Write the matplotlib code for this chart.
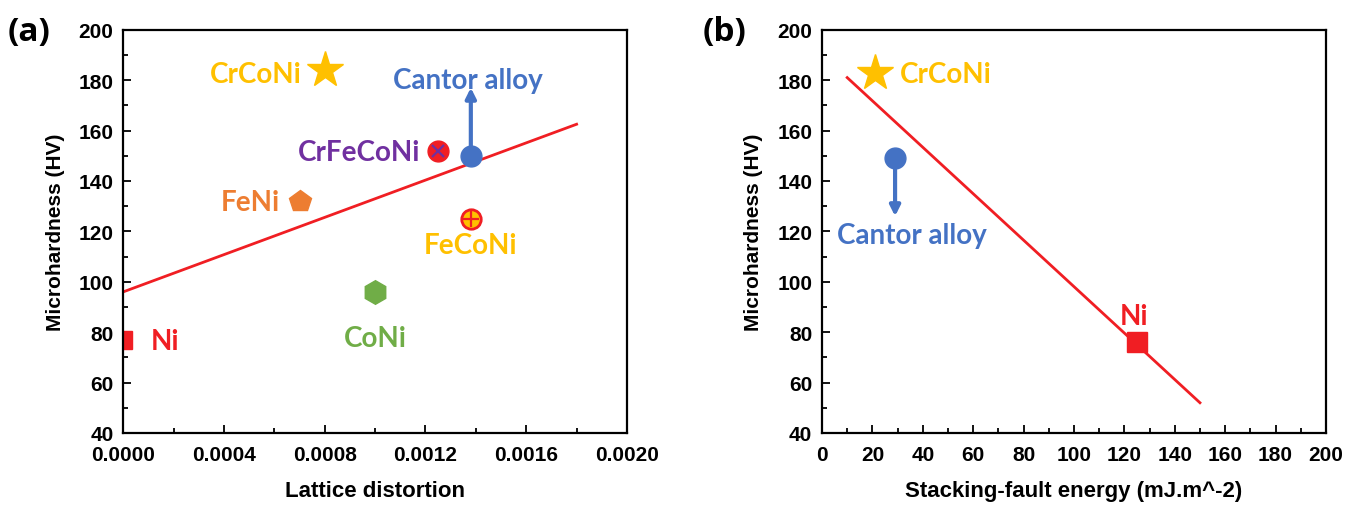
import matplotlib
matplotlib.use("Agg")
import matplotlib.pyplot as plt
from matplotlib.ticker import MultipleLocator, FormatStrFormatter

# ---- data: panel (a) hardness vs lattice distortion ----
alloys_a = ["Ni", "CoNi", "FeNi", "CrCoNi", "FeCoNi", "CrFeCoNi", "Cantor alloy"]
distortion = [0.0, 0.0010, 0.0007, 0.0008, 0.00138, 0.00125, 0.00138]
hardness_a = [77, 96, 132, 184, 125, 152, 150]
cantor_arrow_top_a = 177
fit_a_x = [0.0, 0.0018]
fit_a_y = [96, 162.5]

# ---- data: panel (b) hardness vs stacking-fault energy ----
alloys_b = ["CrCoNi", "Cantor alloy", "Ni"]
sfe = [21, 29, 125]
hardness_b = [183, 149, 76]
cantor_arrow_bottom_b = 126
fit_b_x = [10, 150]
fit_b_y = [181, 52]

RED = "#F01E23"
GOLD = "#FFC000"
BLUE = "#4472C4"
PURPLE = "#7030A0"
ORANGE = "#ED7D31"
GREEN = "#70AD47"

plt.rcParams["font.family"] = ["Liberation Sans", "DejaVu Sans"]
plt.rcParams["font.weight"] = "bold"

fig = plt.figure(figsize=(13.46, 5.06), dpi=100)
ax_a = fig.add_axes([0.0916, 0.1423, 0.3742, 0.797])
ax_b = fig.add_axes([0.6107, 0.1423, 0.3744, 0.797])

lab_font = dict(family=["Lato", "DejaVu Sans"], fontweight="bold", fontsize=20)


def style_axes(ax):
    for s in ax.spines.values():
        s.set_linewidth(1.6)
    ax.tick_params(which="both", direction="in", top=False, right=False,
                   labelsize=15, width=1.3)
    ax.tick_params(which="major", length=6)
    ax.tick_params(which="minor", length=3.5)
    ax.tick_params(axis="x", which="major", pad=9)
    ax.tick_params(axis="y", which="major", pad=7)
    for lbl in ax.get_xticklabels() + ax.get_yticklabels():
        lbl.set_fontweight("bold")
    ax.set_ylim(40, 200)
    ax.yaxis.set_major_locator(MultipleLocator(20))
    ax.yaxis.set_minor_locator(MultipleLocator(10))
    ax.set_ylabel("Microhardness (HV)", fontsize=15, fontweight="bold", labelpad=10)


# ---------------- panel (a) ----------------
ax = ax_a
ax.set_xlim(0, 0.0020)
ax.xaxis.set_major_locator(MultipleLocator(0.0004))
ax.xaxis.set_minor_locator(MultipleLocator(0.0002))
ax.xaxis.set_major_formatter(FormatStrFormatter("%.4f"))
ax.plot(fit_a_x, fit_a_y, color=RED, lw=2)

d = dict(zip(alloys_a, zip(distortion, hardness_a)))
ax.plot(*d["Ni"], marker="s", ms=13, color=RED, mec=RED)
ax.plot(*d["CoNi"], marker="h", ms=17, color=GREEN, mec=GREEN)
ax.plot(*d["FeNi"], marker="p", ms=16, color=ORANGE, mec=ORANGE)
ax.plot(*d["CrCoNi"], marker="*", ms=27, color=GOLD, mec=GOLD)
ax.plot(*d["FeCoNi"], marker="o", ms=14, color=GOLD, mec=RED, mew=2)
ax.plot(*d["FeCoNi"], marker="+", ms=11, color=RED, mew=1.6)
ax.plot(*d["CrFeCoNi"], marker="o", ms=15, color=RED, mec=RED)
ax.plot(*d["CrFeCoNi"], marker="x", ms=8, color=PURPLE, mew=1.6)
cx, cy = d["Cantor alloy"]
ax.annotate("", xy=(cx, cantor_arrow_top_a), xytext=(cx, cy),
            arrowprops=dict(arrowstyle="-|>,head_length=0.6,head_width=0.3",
                            color=BLUE, lw=3, shrinkA=0, shrinkB=0))
ax.plot(cx, cy, marker="o", ms=15, color=BLUE, mec=BLUE)

ax.text(0.00011, 76.5, "Ni", color=RED, ha="left", va="center", **lab_font)
ax.text(0.0010, 77.5, "CoNi", color=GREEN, ha="center", va="center", **lab_font)
ax.text(0.00062, 131.5, "FeNi", color=ORANGE, ha="right", va="center", **lab_font)
ax.text(0.00071, 182.5, "CrCoNi", color=GOLD, ha="right", va="center", **lab_font)
ax.text(0.00138, 114.5, "FeCoNi", color=GOLD, ha="center", va="center", **lab_font)
ax.text(0.00118, 151.5, "CrFeCoNi", color=PURPLE, ha="right", va="center", **lab_font)
ax.text(0.00137, 180, "Cantor alloy", color=BLUE, ha="center", va="center", **lab_font)

style_axes(ax)
ax.set_xlabel("Lattice distortion", fontsize=16, fontweight="bold", labelpad=11)

# ---------------- panel (b) ----------------
ax = ax_b
ax.set_xlim(0, 200)
ax.xaxis.set_major_locator(MultipleLocator(20))
ax.xaxis.set_minor_locator(MultipleLocator(10))
ax.plot(fit_b_x, fit_b_y, color=RED, lw=2)

e = dict(zip(alloys_b, zip(sfe, hardness_b)))
ax.plot(*e["CrCoNi"], marker="*", ms=27, color=GOLD, mec=GOLD)
ax.plot(*e["Ni"], marker="s", ms=14, color=RED, mec=RED)
bx, by = e["Cantor alloy"]
ax.annotate("", xy=(bx, cantor_arrow_bottom_b), xytext=(bx, by),
            arrowprops=dict(arrowstyle="-|>,head_length=0.6,head_width=0.3",
                            color=BLUE, lw=3, shrinkA=0, shrinkB=0))
ax.plot(bx, by, marker="o", ms=15, color=BLUE, mec=BLUE)

ax.text(31, 182.5, "CrCoNi", color=GOLD, ha="left", va="center", **lab_font)
ax.text(35.5, 118.5, "Cantor alloy", color=BLUE, ha="center", va="center", **lab_font)
ax.text(124, 86.5, "Ni", color=RED, ha="center", va="center", **lab_font)

style_axes(ax)
ax.set_xlabel("Stacking-fault energy (mJ.m^-2)", fontsize=16, fontweight="bold",
              labelpad=11)

# panel tags
fig.text(0.006, 0.935, "(a)", fontsize=24, fontweight="bold", va="center", ha="left",
         family=["Open Sans", "DejaVu Sans"])
fig.text(0.522, 0.935, "(b)", fontsize=24, fontweight="bold", va="center", ha="left",
         family=["Open Sans", "DejaVu Sans"])

fig.savefig("out.png", dpi=100)
